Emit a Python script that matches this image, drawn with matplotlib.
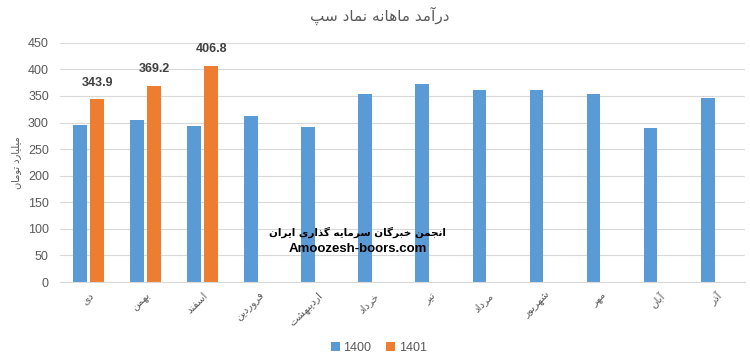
import matplotlib
matplotlib.use("Agg")
import matplotlib.pyplot as plt
import numpy as np

months = ["دی", "بهمن", "اسفند", "فروردین", "اردیبهشت", "خرداد",
          "تیر", "مرداد", "شهریور", "مهر", "آبان", "آذر"]
rev_1400 = [296, 305, 294, 313, 292, 354, 373, 362, 362, 354, 290, 346]
rev_1401 = [343.9, 369.2, 406.8]
title = "درآمد ماهانه نماد سپ"
ylabel = "میلیارد تومان"
watermark = "انجمن خبرگان سرمایه گذاری ایران"
site = "Amoozesh-boors.com"

# matplotlib has no arabic shaping, so pick presentation forms by hand
FORMS = {'ا': (0xFE8D, 2), 'آ': (0xFE81, 2), 'ب': (0xFE8F, 4), 'پ': (0xFB56, 4),
         'ت': (0xFE95, 4), 'ث': (0xFE99, 4), 'ج': (0xFE9D, 4), 'چ': (0xFB7A, 4),
         'ح': (0xFEA1, 4), 'خ': (0xFEA5, 4), 'د': (0xFEA9, 2), 'ذ': (0xFEAB, 2),
         'ر': (0xFEAD, 2), 'ز': (0xFEAF, 2), 'ژ': (0xFB8A, 2), 'س': (0xFEB1, 4),
         'ش': (0xFEB5, 4), 'ص': (0xFEB9, 4), 'ض': (0xFEBD, 4), 'ط': (0xFEC1, 4),
         'ظ': (0xFEC5, 4), 'ع': (0xFEC9, 4), 'غ': (0xFECD, 4), 'ف': (0xFED1, 4),
         'ق': (0xFED5, 4), 'ک': (0xFB8E, 4), 'گ': (0xFB92, 4), 'ل': (0xFEDD, 4),
         'م': (0xFEE1, 4), 'ن': (0xFEE5, 4), 'و': (0xFEED, 2), 'ه': (0xFEE9, 4),
         'ی': (0xFBFC, 4)}


def fa(s):
    out = []
    for i, c in enumerate(s):
        if c not in FORMS:
            out.append(c)
            continue
        base, n = FORMS[c]
        prev = s[i - 1] if i > 0 else ''
        nxt = s[i + 1] if i + 1 < len(s) else ''
        jp = prev in FORMS and FORMS[prev][1] == 4
        jn = n == 4 and nxt in FORMS
        if jp and jn:
            k = 3
        elif jp:
            k = 1
        elif jn:
            k = 2
        else:
            k = 0
        out.append(chr(base + k))
    return ''.join(out)[::-1]


blue = '#5B9BD5'
orange = '#ED7D31'
grey = '#595959'

plt.rcParams['font.family'] = ['Liberation Sans', 'DejaVu Sans']
fig = plt.figure(figsize=(7.5, 3.57), dpi=100)
ax = fig.add_axes([0.08, 0.21, 0.913, 0.67])

x = np.arange(len(months))
w = 0.24
ax.bar(x - 0.15, rev_1400, w, color=blue, label='1400', zorder=2)
b2 = ax.bar(x[:len(rev_1401)] + 0.15, rev_1401, w, color=orange, label='1401', zorder=2)
for r, v in zip(b2, rev_1401):
    ax.text(r.get_x() + r.get_width() / 2, v + 20, f"{v:.1f}", ha='center', va='bottom',
            fontsize=9, fontweight='bold', color='#404040')

ax.set_ylim(0, 450)
ax.set_xlim(-0.5, len(months) - 0.5)
ax.set_yticks(range(0, 451, 50))
ax.grid(axis='y', color='#D9D9D9', linewidth=0.8, zorder=0)
for s in ax.spines.values():
    s.set_visible(False)
ax.spines['bottom'].set_visible(True)
ax.spines['bottom'].set_color('#D9D9D9')
ax.tick_params(length=0, colors=grey, labelsize=9)
ax.tick_params(axis='y', pad=8)
ax.tick_params(axis='x', pad=6)
ax.set_xticks(x)
ax.set_xticklabels([fa(m) for m in months], rotation=45, ha='right', va='top',
                   rotation_mode='anchor', fontsize=7.5, family='DejaVu Sans')
ax.set_ylabel(fa(ylabel), color=grey, fontsize=7, labelpad=5, family='DejaVu Sans')
fig.text(0.507, 0.955, fa(title), color=grey, fontsize=11, ha='center', va='center',
         family='DejaVu Sans')

ax.text(0.435, 0.209, fa(watermark), transform=ax.transAxes, ha='center', va='center',
        fontsize=7.5, fontweight='bold', color='black', zorder=5, family='DejaVu Sans')
ax.text(0.435, 0.138, site, transform=ax.transAxes, ha='center', va='center',
        fontsize=9.5, fontweight='bold', color='black', zorder=5)

fig.legend(loc='lower center', ncol=2, frameon=False, fontsize=9, labelcolor=grey,
           handlelength=0.7, handleheight=0.7, handletextpad=0.3, columnspacing=1.2,
           bbox_to_anchor=(0.505, -0.022))

fig.savefig('out.png', dpi=100)
